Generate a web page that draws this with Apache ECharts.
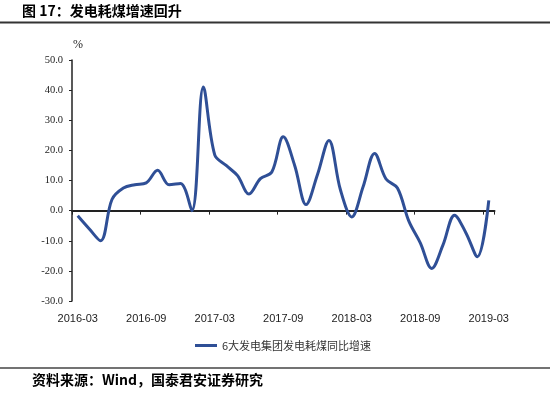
<!DOCTYPE html>
<html>
<head>
<meta charset="utf-8">
<script src="https://cdn.jsdelivr.net/npm/echarts@6/dist/echarts.min.js"></script>
<style>
  html, body { margin: 0; padding: 0; background: #fff; }
  #chart { width: 550px; height: 393px; }
</style>
</head>
<body>
<div id="chart"></div>
<script>
// months 2016-03 .. 2019-03
const months = [
  '2016-03', '2016-04', '2016-05', '2016-06', '2016-07', '2016-08', '2016-09', '2016-10', '2016-11', '2016-12',
  '2017-01', '2017-02', '2017-03', '2017-04', '2017-05', '2017-06', '2017-07', '2017-08', '2017-09', '2017-10',
  '2017-11', '2017-12', '2018-01', '2018-02', '2018-03', '2018-04', '2018-05', '2018-06', '2018-07', '2018-08',
  '2018-09', '2018-10', '2018-11', '2018-12', '2019-01', '2019-02', '2019-03'
];
const coalGrowth = [
  -1.7, -6.0, -10.0, 3.7, 7.5, 8.6, 9.2, 13.4, 8.6, 9.0,
  0.0, 41.0, 18.5, 15.0, 11.6, 5.5, 10.6, 12.8, 24.5, 15.0,
  2.0, 12.0, 23.3, 7.0, -2.1, 8.0, 19.0, 10.5, 7.5, -3.5,
  -10.7, -19.2, -11.3, -1.5, -7.4, -15.3, 3.4
];
const seriesName = '6大发电集团发电耗煤同比增速';
const titleText = '图 17：发电耗煤增速回升';
const sourceText = '资料来源：Wind，国泰君安证券研究';

const cjk = '"Noto Sans CJK SC", sans-serif';
const lineColor = '#2F4F96';

const chart = echarts.init(document.getElementById('chart'));

chart.setOption({
  animation: false,
  backgroundColor: '#fff',
  graphic: [
    { type: 'text', left: 22, top: 4, style: { text: titleText, font: 'bold 14px ' + cjk, fill: '#000' } },
    { type: 'line', shape: { x1: 0, y1: 22.5, x2: 550, y2: 22.5 }, style: { stroke: '#333', lineWidth: 2 } },
    { type: 'text', left: 73, top: 39, style: { text: '%', font: '12px "Liberation Serif"', fill: '#222' } },
    { type: 'line', shape: { x1: 0, y1: 368, x2: 550, y2: 368 }, style: { stroke: '#444', lineWidth: 1.5 } },
    { type: 'text', left: 32, top: 373, style: { text: sourceText, font: 'bold 14px ' + cjk, fill: '#000' } }
  ],
  grid: { left: 72, right: 55.5, top: 60, bottom: 92 },
  legend: {
    data: [seriesName],
    left: 190,
    top: 335,
    icon: 'rect',
    itemWidth: 22,
    itemHeight: 3,
    itemGap: 4,
    textStyle: { fontFamily: cjk, fontSize: 11, color: '#333' }
  },
  xAxis: [
    {
      type: 'category',
      data: months,
      boundaryGap: true,
      position: 'bottom',
      axisLine: { show: false, onZero: false },
      axisTick: { show: false },
      axisLabel: {
        interval: 5,
        margin: 12,
        fontFamily: '"Liberation Sans Narrow", "Liberation Sans", sans-serif',
        fontSize: 11,
        color: '#222'
      }
    },
    {
      type: 'category',
      data: months,
      boundaryGap: true,
      position: 'bottom',
      axisLine: { show: true, onZero: true, lineStyle: { color: '#222', width: 2 } },
      axisTick: {
        show: true,
        interval: (i) => i % 6 === 0 && i < months.length,
        length: 4,
        lineStyle: { color: '#222', width: 1 }
      },
      axisLabel: { show: false }
    }
  ],
  yAxis: {
    type: 'value',
    min: -30,
    max: 50,
    interval: 10,
    splitLine: { show: false },
    axisLine: { show: true, lineStyle: { color: '#222', width: 1.5 } },
    axisTick: { show: true, length: 3, lineStyle: { color: '#222' } },
    axisLabel: {
      margin: 9,
      formatter: (v) => v.toFixed(1),
      fontFamily: '"Liberation Serif", serif',
      fontSize: 10.5,
      color: '#222'
    }
  },
  series: [
    {
      name: seriesName,
      type: 'line',
      data: coalGrowth,
      smooth: 0.35,
      symbol: 'none',
      lineStyle: { color: lineColor, width: 3 },
      itemStyle: { color: lineColor }
    }
  ]
});
</script>
</body>
</html>
